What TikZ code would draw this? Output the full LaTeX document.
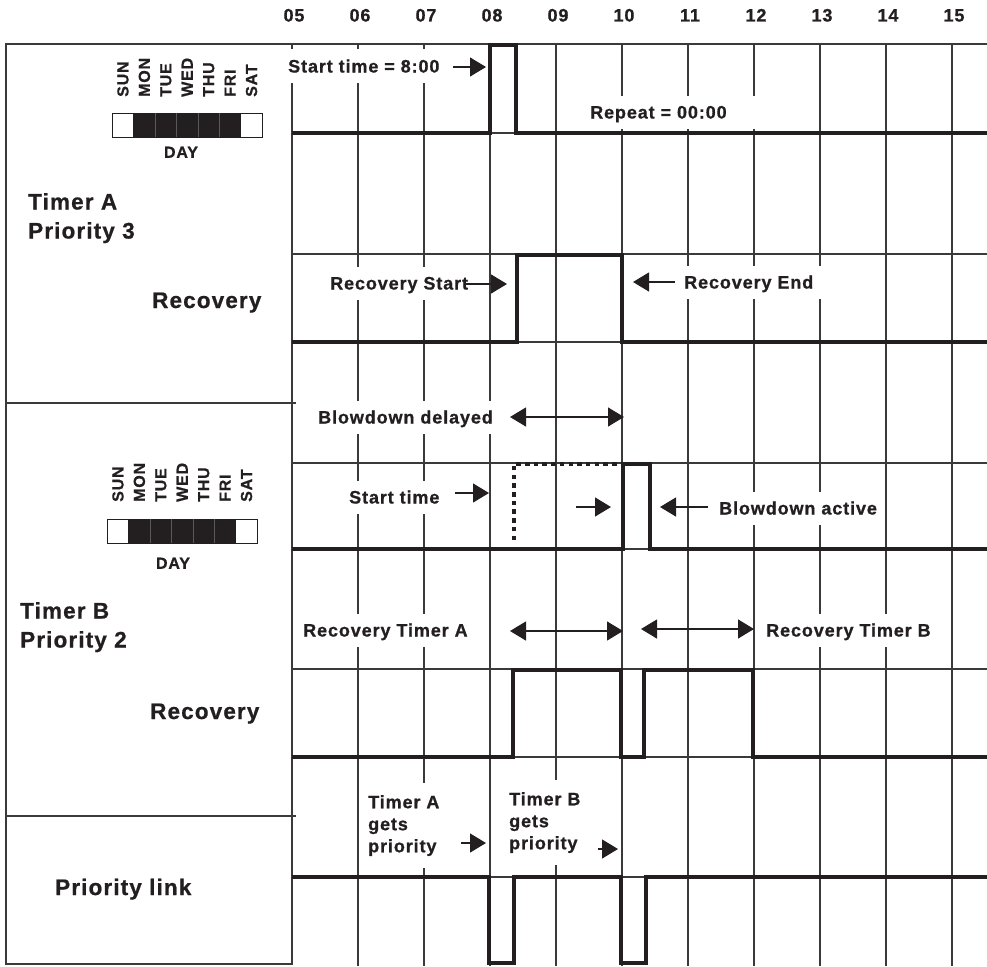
\documentclass[tikz,border=0pt]{standalone}
\usepackage{fontspec}
\setmainfont{Liberation Sans}[LetterSpace=5,BoldFeatures={FakeBold=0.8}]
\usetikzlibrary{arrows.meta}
\definecolor{ink}{HTML}{231F20}
\definecolor{rule}{HTML}{3A3A3A}
\begin{document}
\begin{tikzpicture}[x=1pt,y=-1pt,
  grid/.style={rule,line width=1.2pt},
  sig/.style={ink,line width=4.6pt,line join=miter},
  lbl/.style={fill=white,text=ink,font=\bfseries\fontsize{18}{22}\selectfont,inner xsep=8pt,inner ysep=0pt,minimum height=33pt,text height=13pt,text depth=0pt,anchor=west},
  prio/.style={fill=white,text=ink,font=\bfseries\fontsize{18}{22}\selectfont,align=left,inner xsep=6pt,inner ysep=12pt,anchor=north west},
  side/.style={text=ink,font=\bfseries\fontsize{22.5}{29}\selectfont,align=left,inner sep=0pt},
  hour/.style={text=ink,font=\bfseries\fontsize{18}{22}\selectfont,inner sep=0pt,text height=13pt,text depth=0pt},
  dayn/.style={text=ink,font=\bfseries\fontsize{16}{16}\selectfont,inner sep=0pt,text height=11.5pt,text depth=0pt},
  pt/.style={ink,line width=1.3pt,-{Triangle[length=16pt,width=19pt]}},
  dpt/.style={ink,line width=1.3pt,{Triangle[length=16pt,width=19pt]}-{Triangle[length=16pt,width=19pt]}}]
  \useasboundingbox (0,0) rectangle (987,966);
  % grid and hours
  \foreach \h [count=\k from 0] in {05,06,07,08,09,10,11,12,13,14,15}
    \node[hour] (h\h) at ({294+66*\k},15) {\h};
  \foreach \k in {1,...,10}
    \draw[grid] ({292+66*\k},44) -- ({292+66*\k},966);
  \foreach \y in {133,254,342,463,549,669,757,877}
    \draw[grid] (292,\y) -- (987,\y);
  \draw[grid] (6,44) -- (987,44);
  \draw[grid] (6,44) rectangle (292,964);
  \draw[grid] (6,403) -- (296,403);
  \draw[grid] (6,816) -- (296,816);
  % day blocks
  \foreach \b/\bx/\by/\ly/\dx/\dy in {A/112/113/97/181/152, B/107/519/502/173/563}{
    \draw[ink,line width=1pt] (\bx,\by) rectangle +(150,24);
    \fill[ink] ({\bx+150/7},\by) rectangle +({750/7},24);
    \foreach \s in {2,...,5}
      \draw[black!65,line width=.3pt] ({\bx+\s*150/7},\by) -- +(0,24);
    \foreach \d [count=\i from 0] in {SUN,MON,TUE,WED,THU,FRI,SAT}
      \node[dayn,rotate=90,anchor=west] (d\b\i) at ({\bx+(\i+0.5)*150/7},\ly) {\d};
    \node[dayn] (day\b) at (\dx,\dy) {DAY};
  }
  % left labels
  \node[side,anchor=north west] (tma) at (28,193) {Timer A\\Priority 3};
  \node[side,anchor=base west] (rva) at (152,308) {Recovery};
  \node[side,anchor=north west] (tmb) at (20,602) {Timer B\\Priority 2};
  \node[side,anchor=base west] (rvb) at (150,719) {Recovery};
  \node[side,anchor=base west] (plk) at (55,895) {Priority link};
  % signals
  \draw[sig] (292,133) -- (490,133) -- (490,45) -- (516,45) -- (516,133) -- (987,133);
  \draw[sig] (292,342) -- (517,342) -- (517,255) -- (622,255) -- (622,342) -- (987,342);
  \draw[sig] (292,549) -- (623,549) -- (623,464) -- (650,464) -- (650,549) -- (987,549);
  \draw[sig,dash pattern=on 4.5pt off 4.2pt] (514,540) -- (514,464) -- (619,464);
  \draw[sig] (292,757) -- (513,757) -- (513,670) -- (621,670) -- (621,757) -- (644,757)
    -- (644,670) -- (753,670) -- (753,757) -- (987,757);
  \draw[sig] (292,877) -- (489,877) -- (489,963) -- (514,963) -- (514,877) -- (621,877)
    -- (621,963) -- (646,963) -- (646,877) -- (987,877);
  % labels
  \node[lbl] (st8) at (280,66) {Start time = 8:00};
  \node[lbl,inner xsep=28pt] (rep) at (562,112) {Repeat = 00:00};
  \node[lbl] (rcs) at (322,283) {Recovery Start};
  \node[lbl] (rce) at (676,282) {Recovery End};
  \node[lbl] (bdd) at (310,417) {Blowdown delayed};
  \node[lbl] (stb) at (341,497) {Start time};
  \node[lbl] (bda) at (711,508) {Blowdown active};
  \node[lbl] (rta) at (295,630) {Recovery Timer A};
  \node[lbl] (rtb) at (758,630) {Recovery Timer B};
  \node[prio] (gpa) at (362,783) {Timer A\\gets\\priority};
  \node[prio] (gpb) at (503,780) {Timer B\\gets\\priority};
  % arrows
  \coordinate (st8a) at (453,67);  \coordinate (st8b) at (486,67);
  \coordinate (rcsa) at (464,284); \coordinate (rcsb) at (507,284);
  \coordinate (rcea) at (675,282); \coordinate (rceb) at (633,282);
  \coordinate (bdda) at (510,417); \coordinate (bddb) at (624,417);
  \coordinate (stba) at (455,493); \coordinate (stbb) at (489,493);
  \coordinate (dlya) at (576,507); \coordinate (dlyb) at (611,507);
  \coordinate (bdaa) at (708,507); \coordinate (bdab) at (660,507);
  \coordinate (rtaa) at (510,631); \coordinate (rtab) at (623,631);
  \coordinate (rtba) at (641,629); \coordinate (rtbb) at (754,629);
  \coordinate (gpaa) at (461,843); \coordinate (gpab) at (486,843);
  \coordinate (gpba) at (598,849); \coordinate (gpbb) at (618,849);
  \draw[pt] (st8a) -- (st8b);
  \draw[pt] (rcsa) -- (rcsb);
  \draw[pt] (rcea) -- (rceb);
  \draw[dpt] (bdda) -- (bddb);
  \draw[pt] (stba) -- (stbb);
  \draw[pt] (dlya) -- (dlyb);
  \draw[pt] (bdaa) -- (bdab);
  \draw[dpt] (rtaa) -- (rtab);
  \draw[dpt] (rtba) -- (rtbb);
  \draw[pt] (gpaa) -- (gpab);
  \draw[pt] (gpba) -- (gpbb);
\end{tikzpicture}
\end{document}
